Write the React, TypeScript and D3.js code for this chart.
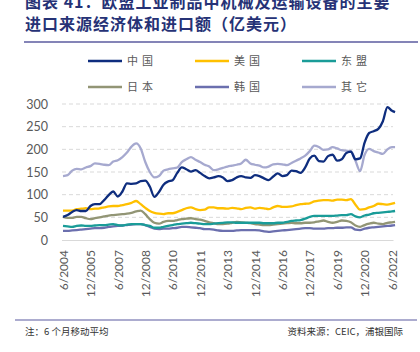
import React, { useEffect, useRef } from 'react';
import * as d3 from 'd3';

// quarterly points from 6/2004 (month offset 0) to 6/2022 (216), plus 8/2022
const monthOffsets = d3.range(0, 217, 3).concat([218]);

const seriesNames = ['中国', '美国', '东盟', '日本', '韩国', '其它'];
const seriesColors = ['#0e2d7e', '#ffc000', '#1a9c98', '#929575', '#6b6fae', '#a6a9cf'];

const china = [
  51, 55, 62, 66, 64, 64, 75, 79, 79, 88,
  99, 107, 96, 107, 125, 124, 125, 130, 131, 118,
  95, 106, 122, 129, 132, 148, 160, 156, 151, 154,
  148, 141, 136, 138, 141, 138, 130, 132, 138, 141,
  138, 137, 143, 141, 136, 132, 140, 147, 141, 143,
  153, 152, 148, 160, 180, 186, 174, 173, 185, 188,
  175, 178, 192, 195, 178, 180, 215, 236, 240, 245,
  262, 293, 285, 282,
];
const usa = [
  65, 65, 65, 68, 69, 70, 68, 69, 70, 72,
  74, 75, 75, 77, 79, 82, 86, 79, 71, 64,
  60, 58, 57, 59, 59, 62, 66, 70, 72, 68,
  66, 67, 72, 72, 70, 70, 69, 71, 70, 68,
  71, 72, 69, 71, 70, 68, 72, 75, 73, 73,
  74, 77, 79, 80, 81, 85, 87, 88, 88, 87,
  89, 89, 88, 90, 78, 67, 68, 72, 75, 80,
  79, 78, 80, 82,
];
const asean = [
  31, 30, 29, 31, 32, 31, 31, 32, 33, 33,
  34, 35, 33, 32, 34, 35, 35, 35, 33, 31,
  27, 27, 29, 31, 33, 35, 36, 37, 38, 37,
  36, 35, 35, 36, 37, 38, 39, 39, 38, 38,
  38, 38, 38, 38, 37, 37, 37, 38, 38, 40,
  42, 43, 44, 47, 51, 53, 53, 53, 53, 53,
  54, 55, 55, 57, 52, 50, 54, 56, 59, 60,
  61, 62, 63, 64,
];
const japan = [
  51, 49, 49, 51, 51, 48, 46, 48, 50, 52,
  54, 55, 56, 57, 58, 60, 63, 65, 57, 46,
  38, 36, 40, 42, 42, 44, 46, 47, 48, 46,
  45, 42, 39, 37, 35, 35, 36, 38, 40, 39,
  38, 37, 35, 34, 33, 33, 34, 35, 36, 37,
  38, 37, 37, 38, 38, 39, 41, 43, 40, 38,
  40, 43, 42, 39, 32, 29, 33, 36, 38, 36,
  35, 38, 39, 40,
];
const korea = [
  20, 20, 21, 22, 23, 24, 25, 26, 26, 27,
  29, 30, 31, 32, 33, 34, 35, 35, 33, 29,
  25, 24, 25, 25, 26, 27, 29, 29, 28, 27,
  26, 24, 24, 23, 21, 20, 20, 20, 21, 22,
  22, 22, 22, 21, 19, 18, 19, 20, 21, 22,
  23, 24, 25, 26, 26, 25, 25, 25, 26, 26,
  27, 27, 28, 28, 23, 22, 25, 27, 28, 29,
  30, 31, 32, 33,
];
const others = [
  141, 143, 153, 157, 156, 160, 163, 169, 168, 166,
  165, 173, 176, 183, 193, 206, 213, 202, 172, 150,
  138, 141, 153, 156, 158, 160, 172, 178, 183, 177,
  172, 166, 162, 154, 156, 159, 162, 164, 166, 169,
  177, 169, 166, 164, 160, 162, 167, 168, 167, 165,
  170, 175, 180, 186, 196, 208, 205, 199, 200, 205,
  202, 198, 197, 196, 175, 152, 188, 201, 196, 193,
  190, 200, 205, 205,
];

const xTickLabels = [
  '6/2004', '12/2005', '6/2007', '12/2008', '6/2010', '12/2011', '6/2013',
  '12/2014', '6/2016', '12/2017', '6/2019', '12/2020', '6/2022',
];
const yTicks = [0, 50, 100, 150, 200, 250, 300];

const allSeries = [china, usa, asean, japan, korea, others];

function App() {
  const ref = useRef<SVGSVGElement>(null);

  useEffect(() => {
    const svg = d3.select(ref.current);
    svg.selectAll('*').remove();

    const dates = monthOffsets.map((m) => new Date(2004, 5 + m, 1));
    const parseLabel = (s: string) => {
      const [mm, yy] = s.split('/').map(Number);
      return new Date(yy, mm - 1, 1);
    };

    const x = d3.scaleTime()
      .domain([new Date(2004, 5, 1), new Date(2022, 5, 1)])
      .range([63, 392]);
    const y = d3.scaleLinear().domain([0, 300]).range([240, 104]);

    const cjk = '"Noto Sans CJK SC", sans-serif';
    const titleColor = '#263276';
    const ruleColor = '#5b5b9f';

    // title
    svg.append('text')
      .attr('x', 25).attr('y', 8)
      .attr('font-family', cjk).attr('font-size', 16).attr('font-weight', 700)
      .attr('letter-spacing', 1)
      .attr('fill', titleColor)
      .text('图表 41：欧盟工业制品中机械及运输设备的主要');
    svg.append('text')
      .attr('x', 25).attr('y', 30)
      .attr('font-family', cjk).attr('font-size', 16).attr('font-weight', 700)
      .attr('letter-spacing', 1)
      .attr('fill', titleColor)
      .text('进口来源经济体和进口额（亿美元）');
    svg.append('line')
      .attr('x1', 24).attr('x2', 418).attr('y1', 42).attr('y2', 42)
      .attr('stroke', ruleColor).attr('stroke-width', 1.5);

    // legend
    const legend = svg.append('g');
    seriesNames.forEach((name, i) => {
      const lx = [88, 195, 302][i % 3];
      const ly = i < 3 ? 61 : 87;
      legend.append('line')
        .attr('x1', lx).attr('x2', lx + 34).attr('y1', ly).attr('y2', ly)
        .attr('stroke', seriesColors[i]).attr('stroke-width', 2.5);
      legend.append('text')
        .attr('x', lx + 39).attr('y', ly).attr('dy', '0.35em')
        .attr('font-family', cjk).attr('font-size', 11).attr('letter-spacing', 4)
        .attr('fill', '#595959')
        .text(name);
    });

    // grid + y axis
    const yAxis = svg.append('g')
      .attr('transform', 'translate(62,0)')
      .call(d3.axisLeft(y).tickValues(yTicks).tickSize(0).tickPadding(14));
    yAxis.select('.domain').remove();
    yAxis.selectAll('text')
      .attr('font-family', 'Lato, sans-serif').attr('font-size', 12.5)
      .attr('fill', '#595959');

    svg.append('g')
      .selectAll('line')
      .data(yTicks.filter((t) => t > 0))
      .enter()
      .append('line')
        .attr('x1', 62).attr('x2', 393)
        .attr('y1', (d) => y(d)).attr('y2', (d) => y(d))
        .attr('stroke', '#d9d9d9').attr('stroke-width', 1)
        .attr('stroke-dasharray', '4,3');

    // x axis
    const xAxis = svg.append('g')
      .attr('transform', `translate(0,${y(0)})`)
      .call(d3.axisBottom(x)
        .tickValues(xTickLabels.map(parseLabel))
        .tickSize(0)
        .tickFormat((_d, i) => xTickLabels[i]));
    xAxis.select('.domain')
      .attr('d', 'M62,0.5H393.5')
      .attr('stroke', '#d9d9d9').attr('stroke-width', 1.2);
    xAxis.selectAll('text')
      .attr('transform', 'rotate(-90)')
      .attr('text-anchor', 'end')
      .attr('x', -10).attr('y', 0).attr('dy', '0.35em')
      .attr('font-family', 'Lato, sans-serif').attr('font-size', 12)
      .attr('fill', '#595959');

    // series lines, China on top
    const line = d3.line<number>()
      .x((_d, i) => x(dates[i]))
      .y((d) => y(d))
      .curve(d3.curveMonotoneX);
    const order = [5, 4, 3, 2, 1, 0];
    svg.append('g')
      .selectAll('path')
      .data(order)
      .enter()
      .append('path')
        .attr('d', (k) => line(allSeries[k]))
        .attr('fill', 'none')
        .attr('stroke', (k) => seriesColors[k])
        .attr('stroke-width', 2.3)
        .attr('stroke-linejoin', 'round');

    // footer
    svg.append('line')
      .attr('x1', 15).attr('x2', 417).attr('y1', 320).attr('y2', 320)
      .attr('stroke', ruleColor).attr('stroke-width', 1.2);
    svg.append('text')
      .attr('x', 25).attr('y', 332).attr('dy', '0.35em')
      .attr('font-family', cjk).attr('font-size', 9.5).attr('fill', '#333')
      .text('注：6 个月移动平均');
    svg.append('text')
      .attr('x', 403).attr('y', 332).attr('dy', '0.35em')
      .attr('text-anchor', 'end')
      .attr('font-family', cjk).attr('font-size', 9.5).attr('fill', '#333')
      .text('资料来源：CEIC，浦银国际');
  }, []);

  return (
    <svg
      ref={ref}
      width={420}
      height={352}
      style={{ position: 'absolute', left: 0, top: 0, background: '#fff' }}
    />
  );
}

export default App;
